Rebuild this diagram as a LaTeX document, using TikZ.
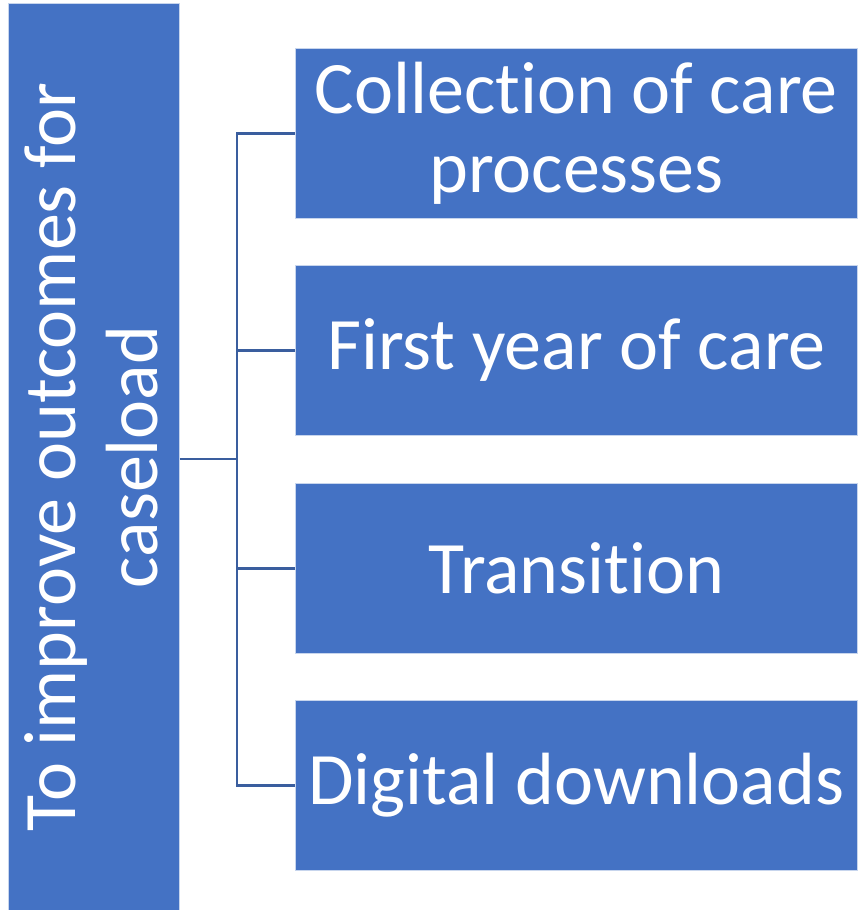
\documentclass[tikz,border=0pt]{standalone}
\usepackage{fontspec}
\setmainfont{Carlito}[Ligatures={NoCommon,NoContextual}, RawFeature={-liga;-clig;-calt;-dlig}]
\definecolor{boxblue}{HTML}{4472C4}
\definecolor{linkblue}{HTML}{3A5E9E}
\begin{document}
\begin{tikzpicture}[x=1pt,y=-1pt,
  box/.style={fill=boxblue, draw=white!70!boxblue, line width=0.8pt, text=white, align=center,
    font=\fontsize{74}{79}\selectfont, inner sep=0pt},
  link/.style={draw=linkblue, line width=2.2pt}]
\useasboundingbox (0,0) rectangle (857,910);
% root box with vertical title
\node[box, minimum width=171pt, minimum height=907pt, anchor=north west] (root) at (8,3) {};
\node[text=white, align=center, rotate=90, font=\fontsize{74}{82}\selectfont] (roottext) at ([xshift=-3pt]root.center)
  {To improve outcomes for\\caseload};
% child boxes
\node[box, minimum width=562pt, minimum height=170pt, anchor=north west] (c1) at (295,48)
  {Collec\kern0pt tion of care\\processes};
\node[box, minimum width=562pt, minimum height=170pt, anchor=north west] (c2) at (295,265)
  {First year of care};
\node[box, minimum width=562pt, minimum height=170pt, anchor=north west] (c3) at (295,483)
  {Transi\kern0pt tion};
\node[box, minimum width=562pt, minimum height=170pt, anchor=north west] (c4) at (295,700)
  {Digital downloads};
% connectors
\coordinate (hub) at (237,459);
\draw[link] (root.east |- hub) -- (hub);
\draw[link] (c1.west) -| (hub);
\draw[link] (c4.west) -| (hub);
\draw[link] (c2.west) -- (hub |- c2.west);
\draw[link] (c3.west) -- (hub |- c3.west);
\end{tikzpicture}
\end{document}
